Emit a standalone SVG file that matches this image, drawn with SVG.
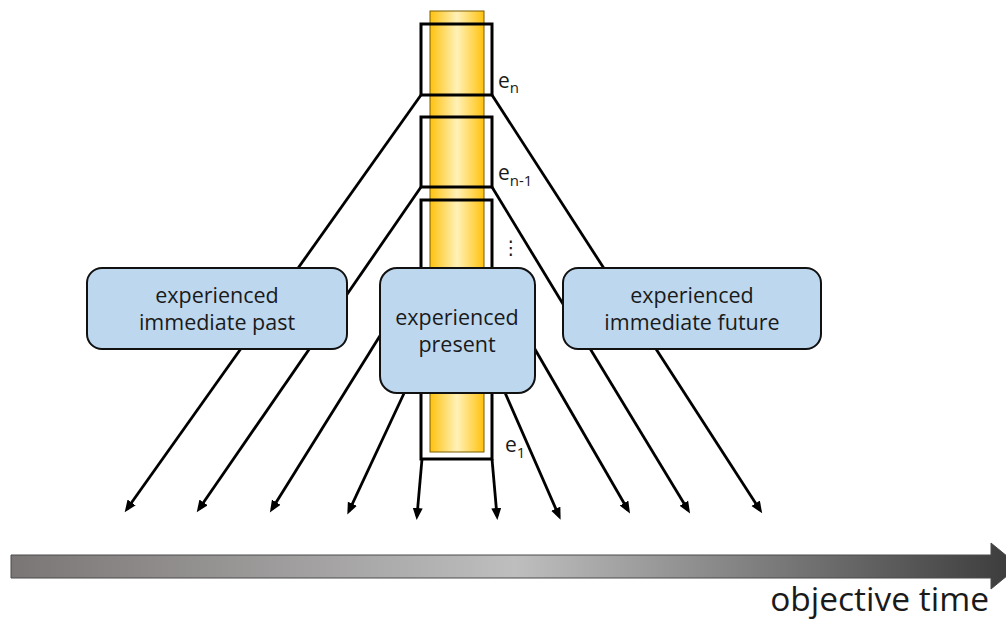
<svg xmlns="http://www.w3.org/2000/svg" width="1006" height="621" viewBox="0 0 1006 621">
  <defs>
    <linearGradient id="column" x1="0" y1="0" x2="1" y2="0">
      <stop offset="0" stop-color="#FFC20E"/>
      <stop offset="0.5" stop-color="#FFF1B8"/>
      <stop offset="1" stop-color="#FFC20E"/>
    </linearGradient>
    <linearGradient id="timebar" gradientUnits="userSpaceOnUse" x1="11" y1="0" x2="1019" y2="0">
      <stop offset="0" stop-color="#7a7675"/>
      <stop offset="0.5" stop-color="#bebebe"/>
      <stop offset="1" stop-color="#3a3a3a"/>
    </linearGradient>
    <marker id="arrow" markerUnits="userSpaceOnUse" markerWidth="14" markerHeight="12" refX="8" refY="5" orient="auto">
      <path d="M0,0 L12,5 L0,10 z" fill="#000"/>
    </marker>
    <style>
      .frame { fill: none; stroke: #000; stroke-width: 3; }
      .conn line { stroke: #000; stroke-width: 2.8; marker-end: url(#arrow); }
      .node rect { fill: #BDD7EE; stroke: #111; stroke-width: 2; }
      .node text { font-family: "Open Sans", "Noto Sans", sans-serif; font-size: 21.5px; fill: #1a1a1a; text-anchor: middle; }
      .lbl { font-family: "Open Sans", "Noto Sans", sans-serif; fill: #1a1a1a; }
    </style>
  </defs>

  <!-- experience column -->
  <rect x="430" y="11" width="54" height="441" fill="url(#column)" stroke="#7a5c00" stroke-width="1"/>

  <!-- event frames -->
  <g id="frames">
    <rect class="frame" x="421" y="24" width="71" height="71"/>
    <rect class="frame" x="421" y="117" width="71" height="70"/>
    <rect class="frame" x="421" y="200" width="71" height="259"/>
  </g>

  <!-- frame labels -->
  <g id="labels">
    <text class="lbl" x="498" y="88" font-size="21">e<tspan font-size="15" dy="5">n</tspan></text>
    <text class="lbl" x="498" y="180" font-size="21">e<tspan font-size="15" dy="6">n-1</tspan></text>
    <text x="511" y="254" font-family="DejaVu Sans, sans-serif" font-size="19" fill="#1a1a1a" text-anchor="middle">⋮</text>
    <text class="lbl" x="505" y="452" font-size="21">e<tspan font-size="15" dy="6">1</tspan></text>
  </g>

  <!-- connectors -->
  <g id="connectors" class="conn">
    <line x1="421" y1="95" x2="127" y2="509"/>
    <line x1="421" y1="187" x2="199" y2="509"/>
    <line x1="421" y1="270" x2="272" y2="509"/>
    <line x1="421" y1="357" x2="349" y2="511"/>
    <line x1="422" y1="459" x2="417" y2="516"/>
    <line x1="492" y1="459" x2="497" y2="516"/>
    <line x1="492" y1="363" x2="559" y2="516"/>
    <line x1="492" y1="275" x2="628" y2="510"/>
    <line x1="492" y1="187" x2="688" y2="510"/>
    <line x1="492" y1="95" x2="760" y2="510"/>
  </g>

  <!-- nodes -->
  <g id="past" class="node">
    <rect x="87" y="268" width="260" height="81" rx="15"/>
    <text x="217" y="303">experienced</text>
    <text x="217" y="330">immediate past</text>
  </g>
  <g id="present" class="node">
    <rect x="380" y="268" width="155" height="125" rx="17"/>
    <text x="457" y="325">experienced</text>
    <text x="457" y="352">present</text>
  </g>
  <g id="future" class="node">
    <rect x="563" y="268" width="258" height="81" rx="15"/>
    <text x="692" y="303">experienced</text>
    <text x="692" y="330">immediate future</text>
  </g>

  <!-- objective time axis -->
  <g id="timeline">
    <polygon points="11,555 991,555 991,543 1019,566 991,589 991,578 11,578" fill="url(#timebar)" stroke="#4a4a4a" stroke-width="1"/>
    <text class="lbl" x="989" y="611" font-size="33.5" text-anchor="end">objective time</text>
  </g>
</svg>
